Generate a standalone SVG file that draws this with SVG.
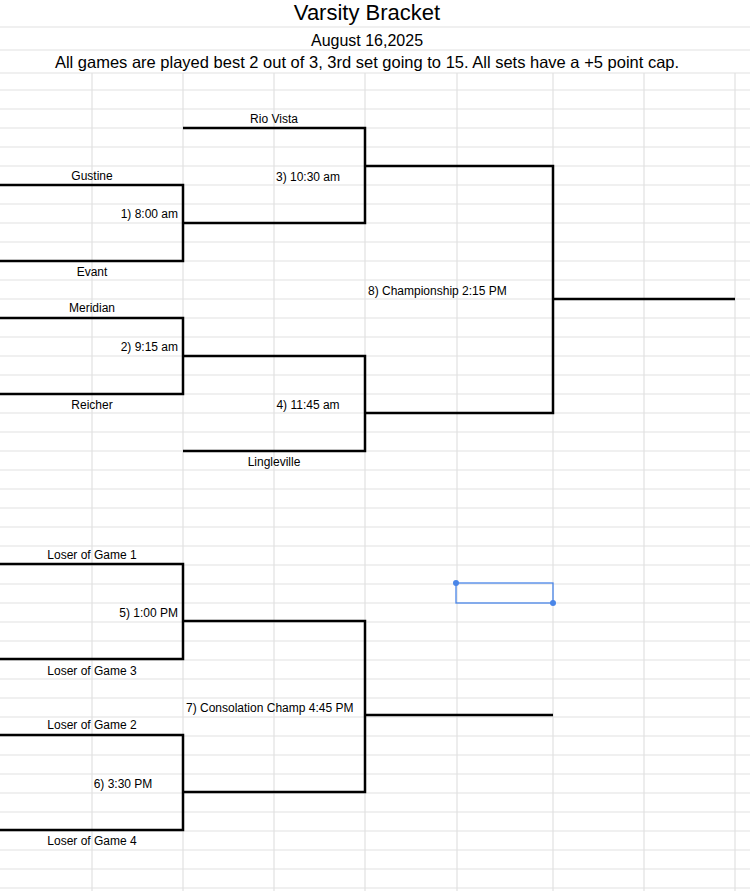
<svg xmlns="http://www.w3.org/2000/svg" width="750" height="891" viewBox="0 0 750 891">
<style>
.g{stroke:#e2e2e2;stroke-width:1.2;fill:none}
.b{stroke:#000;stroke-width:2.5;fill:none}
text{font-family:"Liberation Sans",Arial,sans-serif;font-size:12px;fill:#000}
.c{text-anchor:middle}.r{text-anchor:end}
</style>
<rect width="750" height="891" fill="#fff"/>
<g id="grid" class="g">
<path d="M0 27H750M0 50H750M0 73H750"/>
<path d="M0 90H750M0 109H750M0 128H750M0 147H750M0 166H750M0 185H750M0 204H750M0 223H750M0 242H750M0 261H750M0 280H750M0 299H750M0 318H750M0 337H750M0 356H750M0 375H750M0 394H750M0 413H750M0 432H750M0 451H750M0 470H750M0 489H750M0 508H750M0 527H750M0 546H750M0 565H750M0 584H750M0 603H750M0 622H750M0 641H750M0 660H750M0 679H750M0 698H750M0 717H750M0 736H750M0 755H750M0 774H750M0 793H750M0 812H750M0 831H750M0 850H750M0 869H750M0 888H750"/>
<path d="M92 73V891M183 73V891M274 73V891M365 73V891M457 73V891M553 73V891M644 73V891M735 73V891"/>
</g>
<g id="title">
<text x="367" y="20" class="c" style="font-size:22px">Varsity Bracket</text>
<text x="367" y="46" class="c" style="font-size:16px">August 16,2025</text>
<text x="367" y="68" class="c" style="font-size:16.5px">All games are played best 2 out of 3, 3rd set going to 15. All sets have a +5 point cap.</text>
</g>
<g id="connectors" class="b">
<path d="M183 128H365V223H183"/>
<path d="M0 185H183V261H0"/>
<path d="M365 166H553V413H365"/>
<path d="M553 299H735"/>
<path d="M0 318H183V394H0"/>
<path d="M183 356H365V451H183"/>
<path d="M0 564H183V659H0"/>
<path d="M183 621H365V792H183"/>
<path d="M0 735H183V830H0"/>
<path d="M365 715H553"/>
</g>
<g id="n-gustine"><text x="92" y="180" class="c">Gustine</text></g>
<g id="n-evant"><text x="92" y="276" class="c">Evant</text></g>
<g id="n-meridian"><text x="92" y="312" class="c">Meridian</text></g>
<g id="n-reicher"><text x="92" y="409" class="c">Reicher</text></g>
<g id="n-riovista"><text x="274" y="123" class="c">Rio Vista</text></g>
<g id="n-lingleville"><text x="274" y="466" class="c">Lingleville</text></g>
<g id="n-g1"><text x="178" y="218" class="r">1) 8:00 am</text></g>
<g id="n-g2"><text x="178" y="351" class="r">2) 9:15 am</text></g>
<g id="n-g3"><text x="308" y="181" class="c">3) 10:30 am</text></g>
<g id="n-g4"><text x="308" y="409" class="c">4) 11:45 am</text></g>
<g id="n-g8"><text x="368" y="295">8) Championship 2:15 PM</text></g>
<g id="n-l1"><text x="92" y="559" class="c">Loser of Game 1</text></g>
<g id="n-l3"><text x="92" y="675" class="c">Loser of Game 3</text></g>
<g id="n-l2"><text x="92" y="729" class="c">Loser of Game 2</text></g>
<g id="n-l4"><text x="92" y="845" class="c">Loser of Game 4</text></g>
<g id="n-g5"><text x="178" y="617" class="r">5) 1:00 PM</text></g>
<g id="n-g6"><text x="123" y="788" class="c">6) 3:30 PM</text></g>
<g id="n-g7"><text x="186" y="712">7) Consolation Champ 4:45 PM</text></g>
<g id="selection">
<rect x="456" y="583" width="97" height="20" fill="none" stroke="#4a86e8" stroke-width="1.3"/>
<circle cx="456" cy="583" r="3" fill="#4a86e8"/>
<circle cx="553" cy="603" r="3" fill="#4a86e8"/>
</g>
</svg>
